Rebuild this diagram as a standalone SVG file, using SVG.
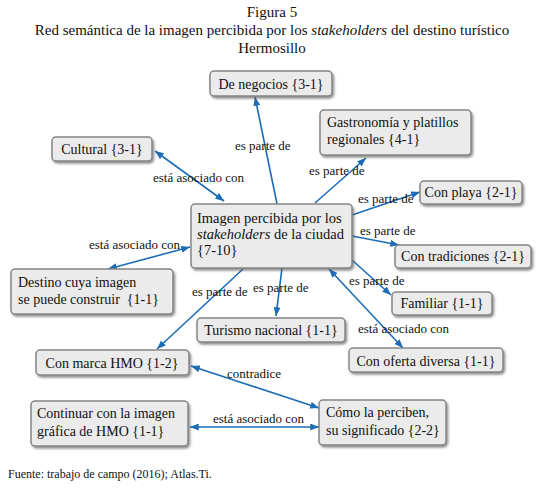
<svg xmlns="http://www.w3.org/2000/svg" width="544" height="490" viewBox="0 0 544 490">
<style>
text{font-family:"Liberation Serif","DejaVu Serif",serif;fill:#111}
.t{font-size:15px}
.n{font-size:14px}
.l{font-size:13px}
.box{fill:#ebebeb;stroke:#858585;stroke-width:1.5;filter:url(#sh)}
.c line{stroke:#1c6cb6;stroke-width:1.6;fill:none}
.e{marker-end:url(#ah)}
.b{marker-end:url(#ah);marker-start:url(#ah)}
</style>
<defs>
<filter id="sh" x="-10%" y="-10%" width="125%" height="140%">
<feDropShadow dx="1.5" dy="2" stdDeviation="1.2" flood-color="#555" flood-opacity="0.65"/>
</filter>
<marker id="ah" viewBox="0 0 10 8" refX="10" refY="4" markerWidth="9" markerHeight="7" markerUnits="userSpaceOnUse" orient="auto-start-reverse">
<path d="M0,0 L10,4 L0,8 Z" fill="#1c6cb6"/>
</marker>
</defs>
<rect width="544" height="490" fill="#fff"/>
<g id="title" class="t" text-anchor="middle">
<text x="272" y="17">Figura 5</text>
<text x="272" y="35">Red semántica de la imagen percibida por los <tspan font-style="italic">stakeholders</tspan> del destino turístico</text>
<text x="272" y="53">Hermosillo</text>
</g>
<g id="connectors" class="c">
<line class="e" x1="277" y1="204" x2="255" y2="97"/>
<line class="b" x1="155" y1="151" x2="224" y2="201"/>
<line class="e" x1="315" y1="203" x2="366" y2="158"/>
<line class="e" x1="352" y1="215" x2="420" y2="192"/>
<line class="e" x1="352" y1="236" x2="399" y2="245"/>
<line class="e" x1="352" y1="260" x2="391" y2="295"/>
<line class="b" x1="329" y1="269" x2="403" y2="348"/>
<line class="e" x1="282" y1="268" x2="276" y2="316"/>
<line class="e" x1="243" y1="269" x2="157" y2="349"/>
<line class="b" x1="190" y1="247" x2="108" y2="269"/>
<line class="b" x1="191" y1="366" x2="319" y2="408"/>
<line class="b" x1="190" y1="427" x2="319" y2="427"/>
</g>
<g id="labels" class="l">
<text x="235" y="150">es parte de</text>
<text x="153" y="182">está asociado con</text>
<text x="309" y="175">es parte de</text>
<text x="358" y="203">es parte de</text>
<text x="360" y="235">es parte de</text>
<text x="349" y="285">es parte de</text>
<text x="358" y="333">está asociado con</text>
<text x="253" y="292">es parte de</text>
<text x="192" y="296">es parte de</text>
<text x="89" y="249">está asociado con</text>
<text x="227" y="378">contradice</text>
<text x="213" y="423">está asociado con</text>
</g>
<g id="n-negocios" class="n"><rect class="box" x="210" y="71" width="122" height="25" rx="4"/><text x="271" y="89" text-anchor="middle">De negocios {3-1}</text></g>
<g id="n-gastro" class="n"><rect class="box" x="320" y="110" width="151" height="45" rx="4"/><text x="327" y="127">Gastronomía y platillos</text><text x="327" y="144">regionales {4-1}</text></g>
<g id="n-cultural" class="n"><rect class="box" x="52" y="137" width="100" height="24" rx="4"/><text x="102" y="154" text-anchor="middle">Cultural {3-1}</text></g>
<g id="n-centro" class="n"><rect class="box" x="191" y="204" width="161" height="64" rx="4"/><text x="197" y="223" font-size="14.5">Imagen percibida por los</text><text x="197" y="239" font-size="14.5"><tspan font-style="italic">stakeholders</tspan> de la ciudad</text><text x="197" y="255" font-size="14.5">{7-10}</text></g>
<g id="n-playa" class="n"><rect class="box" x="420" y="181" width="102" height="23" rx="4"/><text x="471" y="197" text-anchor="middle">Con playa {2-1}</text></g>
<g id="n-tradiciones" class="n"><rect class="box" x="395" y="245" width="136" height="23" rx="4"/><text x="463" y="261" text-anchor="middle">Con tradiciones {2-1}</text></g>
<g id="n-familiar" class="n"><rect class="box" x="392" y="292" width="100" height="23" rx="4"/><text x="442" y="308" text-anchor="middle">Familiar {1-1}</text></g>
<g id="n-turismo" class="n"><rect class="box" x="197" y="318" width="148" height="24" rx="4"/><text x="271" y="335" text-anchor="middle">Turismo nacional {1-1}</text></g>
<g id="n-oferta" class="n"><rect class="box" x="349" y="348" width="154" height="24" rx="4"/><text x="426" y="366" text-anchor="middle">Con oferta diversa {1-1}</text></g>
<g id="n-destino" class="n"><rect class="box" x="11" y="269" width="162" height="45" rx="4"/><text x="18" y="287">Destino cuya imagen</text><text x="18" y="304">se puede construir&#160; {1-1}</text></g>
<g id="n-marca" class="n"><rect class="box" x="36" y="350" width="153" height="25" rx="4"/><text x="112" y="368" text-anchor="middle">Con marca HMO {1-2}</text></g>
<g id="n-continuar" class="n"><rect class="box" x="31" y="401" width="157" height="45" rx="4"/><text x="37" y="418">Continuar con la imagen</text><text x="37" y="436">gráfica de HMO {1-1}</text></g>
<g id="n-como" class="n"><rect class="box" x="319" y="400" width="127" height="45" rx="4"/><text x="326" y="417">Cómo la perciben,</text><text x="326" y="435">su significado {2-2}</text></g>
<text x="8" y="478" font-size="12">Fuente: trabajo de campo (2016); Atlas.Ti.</text>
</svg>
